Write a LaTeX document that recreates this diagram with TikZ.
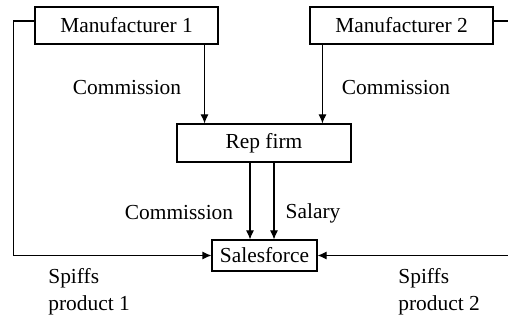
\documentclass[tikz,border=0pt]{standalone}
\usepackage{fontspec}
\setmainfont{Liberation Serif}
\usepackage{tikz}
\usetikzlibrary{arrows.meta,positioning}
\tikzstyle{arrow} = [line width=0.55pt,-{Latex[length=4.5pt,width=4pt]}]
\tikzstyle{party} = [rectangle, draw, line width=0.55pt, inner sep=0pt, text centered, minimum height=18.5pt]
\tikzstyle{flow} = [inner sep=0pt, align=left]

\begin{document}
\begin{tikzpicture}[x=0.5pt, y=-0.5pt, font=\fontsize{10.7}{13.5}\selectfont]
\clip (0,0) rectangle (508,320);
% Parties
\node (man1) [party, minimum width=91.5pt] at (126.5,25.5) {Manufacturer 1};
\node (man2) [party, minimum width=91.5pt] at (401.5,25.5) {Manufacturer 2};
\node (rep) [party, minimum width=87pt, minimum height=19pt] at (264,143) {Rep firm};
\node (sales) [party, minimum width=52.5pt, minimum height=15.5pt] at (264.5,255.5) {Salesforce};

% Commissions to the rep firm
\draw[arrow] ([xshift=-7pt]man1.south east) -- ([xshift=-7pt]man1.south east |- rep.north);
\draw[arrow] ([xshift=6.5pt]man2.south west) -- ([xshift=6.5pt]man2.south west |- rep.north);

% Rep firm to salesforce
\draw[arrow] ([xshift=-7pt]rep.south) -- ([xshift=-7pt]rep.south |- sales.north);
\draw[arrow] ([xshift=5pt]rep.south) -- ([xshift=5pt]rep.south |- sales.north);

% Spiffs
\draw[arrow] ([yshift=2.25pt]man1.west) -- ++(-21,0) |- (sales.west);
\draw[arrow] ([yshift=2.25pt]man2.east) -- ++(40,0) |- (sales.east);

% Labels
\node (com1) [flow] at (127,88) {Commission};
\node (com2) [flow] at (396,88) {Commission};
\node (com3) [flow] at (179,213) {Commission};
\node (salary) [flow] at (313,213) {Salary};
\node (spiff1) [flow, anchor=west] at (48,291.5) {Spiffs\\product 1};
\node (spiff2) [flow, anchor=west] at (398,291.5) {Spiffs\\product 2};
\end{tikzpicture}
\end{document}
